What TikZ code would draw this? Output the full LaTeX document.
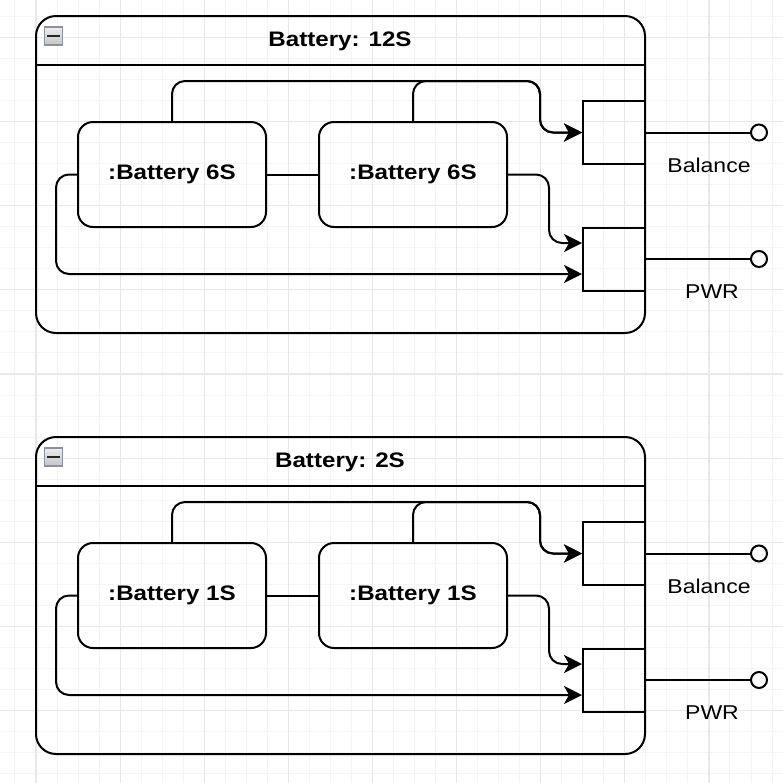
\documentclass[tikz,border=0pt]{standalone}
\usepackage{fontspec}
\setmainfont[FakeStretch=1.15]{Liberation Sans}
\usepackage{tikz}
\usetikzlibrary{arrows.meta, positioning, calc}
\definecolor{gridc}{HTML}{F4F4F4}
\definecolor{gridm}{HTML}{E8E8E8}
\definecolor{iconc}{HTML}{8A909E}

\begin{document}
\begin{tikzpicture}[x=0.5pt, y=-0.5pt, line width=1pt,
      >={Stealth[length=9pt, width=9pt, inset=2.5pt]},
      gridline/.style={gridc, line width=0.5pt},
      gridmajor/.style={gridm, line width=0.6pt},
      frame/.style={draw, rounded corners=10pt, minimum width=304.5pt,
        minimum height=158.5pt, inner sep=0pt},
      part/.style={draw, rounded corners=7.5pt, minimum width=94pt,
        minimum height=52.5pt, inner sep=0pt,
        font=\fontsize{10.5}{12}\selectfont\bfseries},
      port/.style={draw, minimum width=31pt, minimum height=31.5pt,
        inner sep=0pt},
      pin/.style={circle, draw, fill=white, minimum size=8pt, inner sep=0pt},
      wire/.style={->, rounded corners=6.5pt}]
    \useasboundingbox (0,0) rectangle (783,783);
    \foreach \k in {-1,...,35}{
      \draw[gridline] ({36+21.03*\k},0) -- ({36+21.03*\k},783);
    }
    \foreach \k in {-17,...,19}{
      \draw[gridline] (0,{374+21.03*\k}) -- (783,{374+21.03*\k});
    }
    \foreach \m in {0,...,8}{
      \draw[gridmajor] ({36+84.12*\m},0) -- ({36+84.12*\m},783);
    }
    \foreach \m in {-4,...,4}{
      \draw[gridmajor] (0,{374+84.12*\m}) -- (783,{374+84.12*\m});
    }
    \foreach \n/\oy/\cap/\cell in {a/0/12S/6S, b/421/2S/1S}{
      \begin{scope}[shift={(0,\oy)}]
        \node[frame] (frame\n) at (340.5,174.5) {};
        \draw ([yshift=-25pt]frame\n.north west) -- ([yshift=-25pt]frame\n.north east);
        \node[draw=iconc, top color=gray!15, bottom color=gray!45,
              line width=0.7pt, minimum size=9pt, inner sep=0pt] (icon\n) at (53.5,36) {};
        \draw[black!85, line width=1.1pt] ([xshift=-3.2pt]icon\n.center) -- ([xshift=3.2pt]icon\n.center);
        \node[font=\fontsize{10.5}{12}\selectfont\bfseries] (title\n) at (340,41) {Battery: \cap};
        \node[part] (left\n) at (172,174.5) {:Battery \cell};
        \node[part] (right\n) at (413,174.5) {:Battery \cell};
        \node[port] (bal\n) at (614,132.5) {};
        \node[port] (pwr\n) at (614,259) {};
        \node[pin] (pinb\n) at (759,132.5) {};
        \node[pin] (pinp\n) at (759,259) {};
        \node[font=\fontsize{10}{12}\selectfont] (lblb\n) at (709,165) {Balance};
        \node[font=\fontsize{10}{12}\selectfont] (lblp\n) at (712,292) {PWR};
        \coordinate (jn\n) at (540,81);
        \draw (left\n.east) -- (right\n.west);
        \draw (bal\n.east) -- (pinb\n);
        \draw (pwr\n.east) -- (pinp\n);
        \draw[wire] (left\n.north) |- (jn\n) |- (bal\n.west);
        \draw[wire] (right\n.north) |- (jn\n) |- (bal\n.west);
        \draw[wire] (right\n.east) -| ([xshift=-16.5pt, yshift=8pt]pwr\n.west)
          -- ([yshift=8pt]pwr\n.west);
        \draw[wire] (left\n.west) -- ++(-21,0) |- ([yshift=-7.5pt]pwr\n.west);
      \end{scope}
    }
  \end{tikzpicture}
\end{document}
